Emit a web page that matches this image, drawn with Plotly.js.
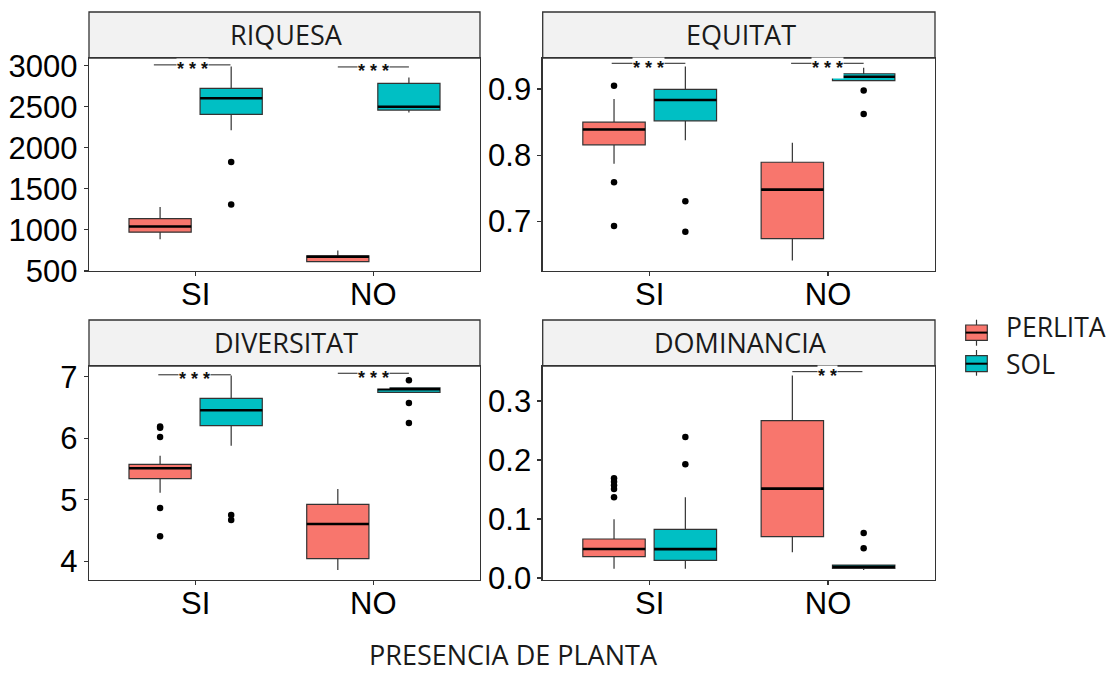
<!DOCTYPE html>
<html>
<head>
<meta charset="utf-8">
<script src="https://cdn.plot.ly/plotly-3.0.1.min.js"></script>
<style>html,body{margin:0;padding:0;background:#fff;}#chart{width:1110px;height:673px;}</style>
</head>
<body>
<div id="chart"></div>
<script>
// ---------- DATA ----------
const categories = ['SI', 'NO'];
const groups = ['PERLITA', 'SOL'];
const panelTitles = ['RIQUESA', 'EQUITAT', 'DIVERSITAT', 'DOMINANCIA'];
const xAxisTitle = 'PRESENCIA DE PLANTA';

// RIQUESA
const riqPerlitaLow = [886, 612];
const riqPerlitaQ1 = [972, 612];
const riqPerlitaMed = [1041, 672];
const riqPerlitaQ3 = [1136, 685];
const riqPerlitaHigh = [1278, 748];
const riqPerlitaOut = [[], []];
const riqSolLow = [2215, 2431];
const riqSolQ1 = [2407, 2460];
const riqSolMed = [2603, 2500];
const riqSolQ3 = [2725, 2786];
const riqSolHigh = [2989, 2855];
const riqSolOut = [[1828, 1310], []];
const riqSig = ['***', '***'];
const riqSigY = [3010, 2985];

// EQUITAT
const equPerlitaLow = [0.787, 0.641];
const equPerlitaQ1 = [0.8157, 0.674];
const equPerlitaMed = [0.839, 0.748];
const equPerlitaQ3 = [0.850, 0.7894];
const equPerlitaHigh = [0.885, 0.8187];
const equPerlitaOut = [[0.905, 0.759, 0.693], []];
const equSolLow = [0.8226, 0.9127];
const equSolQ1 = [0.852, 0.9127];
const equSolMed = [0.8835, 0.9187];
const equSolQ3 = [0.8995, 0.9232];
const equSolHigh = [0.934, 0.9323];
const equSolOut = [[0.7306, 0.6845], [0.898, 0.8625]];
const equSig = ['***', '***'];
const equSigY = [0.939, 0.939];

// DIVERSITAT
const divPerlitaLow = [5.115, 3.859];
const divPerlitaQ1 = [5.342, 4.042];
const divPerlitaMed = [5.511, 4.606];
const divPerlitaQ3 = [5.576, 4.926];
const divPerlitaHigh = [5.716, 5.175];
const divPerlitaOut = [[6.19, 6.17, 6.02, 4.866, 4.406], []];
const divSolLow = [5.878, 6.745];
const divSolQ1 = [6.203, 6.745];
const divSolMed = [6.453, 6.795];
const divSolQ3 = [6.648, 6.82];
const divSolHigh = [7.02, 6.82];
const divSolOut = [[4.752, 4.67], [6.94, 6.572, 6.247]];
const divSig = ['***', '***'];
const divSigY = [7.03, 7.055];

// DOMINANCIA
const domPerlitaLow = [0.0158, 0.0435];
const domPerlitaQ1 = [0.0361, 0.070];
const domPerlitaMed = [0.0492, 0.1514];
const domPerlitaQ3 = [0.0661, 0.2667];
const domPerlitaHigh = [0.0994, 0.343];
const domPerlitaOut = [[0.169, 0.163, 0.157, 0.151, 0.1367], []];
const domSolLow = [0.0158, 0.0136];
const domSolQ1 = [0.030, 0.0164];
const domSolMed = [0.049, 0.019];
const domSolQ3 = [0.0825, 0.022];
const domSolHigh = [0.1367, 0.022];
const domSolOut = [[0.239, 0.1927], [0.0763, 0.0503]];
const domSig = ['', '**'];
const domSigY = [null, 0.3497];

// ---------- STYLE / LAYOUT ----------
const W = 1110, H = 673;
const px = v => v / W;
const py = v => 1 - v / H;
const colors = {PERLITA: '#F8766D', SOL: '#00BFC4'};
const tickFont = {family: 'Liberation Sans, Arial, sans-serif', size: 31, color: '#000'};
const textFont = 'Open Sans, Noto Sans, sans-serif';

const panels = [
  {ax: ['x', 'y'], data: {PERLITA: [riqPerlitaLow, riqPerlitaQ1, riqPerlitaMed, riqPerlitaQ3, riqPerlitaHigh, riqPerlitaOut], SOL: [riqSolLow, riqSolQ1, riqSolMed, riqSolQ3, riqSolHigh, riqSolOut]}, sig: riqSig, sigY: riqSigY,
   xd: [89, 480], yd: [58, 271], strip: [12, 58], range: [499, 3094], dtick: 500, fmt: 'd', bx: [[-0.235, 0.196], [-0.2, 0.2]]},
  {ax: ['x2', 'y2'], data: {PERLITA: [equPerlitaLow, equPerlitaQ1, equPerlitaMed, equPerlitaQ3, equPerlitaHigh, equPerlitaOut], SOL: [equSolLow, equSolQ1, equSolMed, equSolQ3, equSolHigh, equSolOut]}, sig: equSig, sigY: equSigY,
   xd: [542.7, 935], yd: [58, 271], strip: [12, 58], range: [0.625, 0.947], dtick: 0.1, fmt: '.1f', bx: [[-0.213, 0.2], [-0.207, 0.2]]},
  {ax: ['x3', 'y3'], data: {PERLITA: [divPerlitaLow, divPerlitaQ1, divPerlitaMed, divPerlitaQ3, divPerlitaHigh, divPerlitaOut], SOL: [divSolLow, divSolQ1, divSolMed, divSolQ3, divSolHigh, divSolOut]}, sig: divSig, sigY: divSigY,
   xd: [89, 480], yd: [366, 580], strip: [320, 366], range: [3.696, 7.173], dtick: 1, fmt: 'd', bx: [[-0.21, 0.198], [-0.2, 0.2]]},
  {ax: ['x4', 'y4'], data: {PERLITA: [domPerlitaLow, domPerlitaQ1, domPerlitaMed, domPerlitaQ3, domPerlitaHigh, domPerlitaOut], SOL: [domSolLow, domSolQ1, domSolMed, domSolQ3, domSolHigh, domSolOut]}, sig: domSig, sigY: domSigY,
   xd: [542.7, 935], yd: [366, 580], strip: [320, 366], range: [-0.0034, 0.3593], dtick: 0.1, fmt: '.1f', bx: [[-0.2, 0.2], [-0.2, 0.193]]}
];

const traces = [];
const shapes = [];
const annotations = [];
const layout = {
  width: W, height: H,
  margin: {l: 0, r: 0, t: 0, b: 0},
  paper_bgcolor: '#fff', plot_bgcolor: '#fff',
  boxmode: 'group', boxgap: 0.2, boxgroupgap: 0.125,
  showlegend: false,
  shapes: shapes, annotations: annotations
};

panels.forEach((p, k) => {
  const [xa, ya] = p.ax;
  groups.forEach(g => {
    const [lo, q1, med, q3, hi, out] = p.data[g];
    const tr = {
      type: 'box', name: g, xaxis: xa, yaxis: ya,
      x: categories,
      q1: q1, median: med, q3: q3, lowerfence: lo, upperfence: hi,
      boxpoints: 'all', jitter: 0, pointpos: 0,
      fillcolor: colors[g], line: {color: '#333333', width: 1.2},
      marker: {color: '#000', size: 6.5, line: {width: 0}},
      whiskerwidth: 0, offsetgroup: g, alignmentgroup: 'a' + k,
      showlegend: false, hoverinfo: 'skip'
    };
    if (out.some(a => a.length > 0)) tr.y = out;
    else tr.boxpoints = false;
    traces.push(tr);
  });
  groups.forEach(g => {
    const med = p.data[g][2];
    traces.push({
      type: 'box', name: g + ' mediana', xaxis: xa, yaxis: ya,
      x: categories,
      q1: med, median: med, q3: med, lowerfence: med, upperfence: med,
      boxpoints: false, fillcolor: 'rgba(0,0,0,0)', line: {color: '#000', width: 2.6},
      whiskerwidth: 0, offsetgroup: g, alignmentgroup: 'a' + k,
      showlegend: false, hoverinfo: 'skip'
    });
  });

  const xn = xa === 'x' ? 'xaxis' : 'xaxis' + xa.slice(1);
  const yn = ya === 'y' ? 'yaxis' : 'yaxis' + ya.slice(1);
  layout[xn] = {
    domain: [px(p.xd[0]), px(p.xd[1])], anchor: ya, type: 'category',
    categoryorder: 'array', categoryarray: categories,
    range: [-0.6, 1.6], showgrid: false, zeroline: false,
    showline: true, mirror: true, linecolor: '#333333', linewidth: 1.3,
    ticks: 'outside', ticklen: 4, tickcolor: '#333333', tickwidth: 1.2,
    ticklabelstandoff: -9,
    tickfont: tickFont, automargin: false, fixedrange: true
  };
  layout[yn] = {
    domain: [py(p.yd[1]), py(p.yd[0])], anchor: xa,
    range: p.range, dtick: p.dtick, tick0: 0, tickformat: p.fmt,
    showgrid: false, zeroline: false,
    showline: true, mirror: true, linecolor: '#333333', linewidth: 1.3,
    ticks: 'outside', ticklen: 4, tickcolor: '#333333', tickwidth: 1.2,
    tickfont: tickFont, automargin: false, fixedrange: true
  };

  // strip
  shapes.push({type: 'rect', xref: 'paper', yref: 'paper',
    x0: px(p.xd[0]), x1: px(p.xd[1]), y0: py(p.strip[1]), y1: py(p.strip[0]),
    fillcolor: '#F2F2F2', line: {color: '#333333', width: 1.3}, layer: 'below'});
  annotations.push({xref: 'paper', yref: 'paper',
    x: px((p.xd[0] + p.xd[1]) / 2 + 2), y: py((p.strip[0] + p.strip[1]) / 2 - 1),
    text: panelTitles[k], showarrow: false, xanchor: 'center', yanchor: 'middle',
    font: {family: textFont, size: 27, color: '#1a1a1a'}});

  // significance brackets
  categories.forEach((c, i) => {
    if (!p.sig[i]) return;
    const [o0, o1] = p.bx[i];
    shapes.push({type: 'line', xref: xa, yref: ya, x0: i + o0, x1: i + o1,
      y0: p.sigY[i], y1: p.sigY[i], line: {color: '#222', width: 1}});
    annotations.push({xref: xa, yref: ya, x: i + (o0 + o1) / 2, y: p.sigY[i],
      text: '<b>' + p.sig[i].split('').join(' ') + '</b>', showarrow: false, yanchor: 'middle', yshift: -4.5,
      bgcolor: '#fff', borderpad: 0,
      font: {family: 'Liberation Sans, Arial, sans-serif', size: 18, color: '#111'}});
  });
});

// x-axis title
annotations.push({xref: 'paper', yref: 'paper', x: px(513), y: 0, yshift: -2,
  text: xAxisTitle, showarrow: false, xanchor: 'center', yanchor: 'bottom',
  font: {family: textFont, size: 27, color: '#1a1a1a'}});

// legend (drawn)
const legendRows = [
  {g: 'PERLITA', box: [325, 340.3], med: 332.6, wh: [319.7, 345.7], ty: 327},
  {g: 'SOL', box: [355.7, 371.7], med: 363.7, wh: [350, 375.7], ty: 364}
];
legendRows.forEach(r => {
  shapes.push({type: 'line', xref: 'paper', yref: 'paper', x0: px(976.5), x1: px(976.5),
    y0: py(r.wh[0]), y1: py(r.wh[1]), line: {color: '#333', width: 1.2}});
  shapes.push({type: 'rect', xref: 'paper', yref: 'paper', x0: px(965.7), x1: px(987.3),
    y0: py(r.box[1]), y1: py(r.box[0]), fillcolor: colors[r.g], line: {color: '#333', width: 1.2}});
  shapes.push({type: 'line', xref: 'paper', yref: 'paper', x0: px(965.7), x1: px(987.3),
    y0: py(r.med), y1: py(r.med), line: {color: '#000', width: 2}});
  annotations.push({xref: 'paper', yref: 'paper', x: px(1004), y: py(r.ty),
    text: r.g, showarrow: false, xanchor: 'left', yanchor: 'middle',
    font: {family: textFont, size: 26.5, color: '#1a1a1a'}});
});

Plotly.newPlot('chart', traces, layout, {staticPlot: true, displayModeBar: false});
</script>
</body>
</html>
